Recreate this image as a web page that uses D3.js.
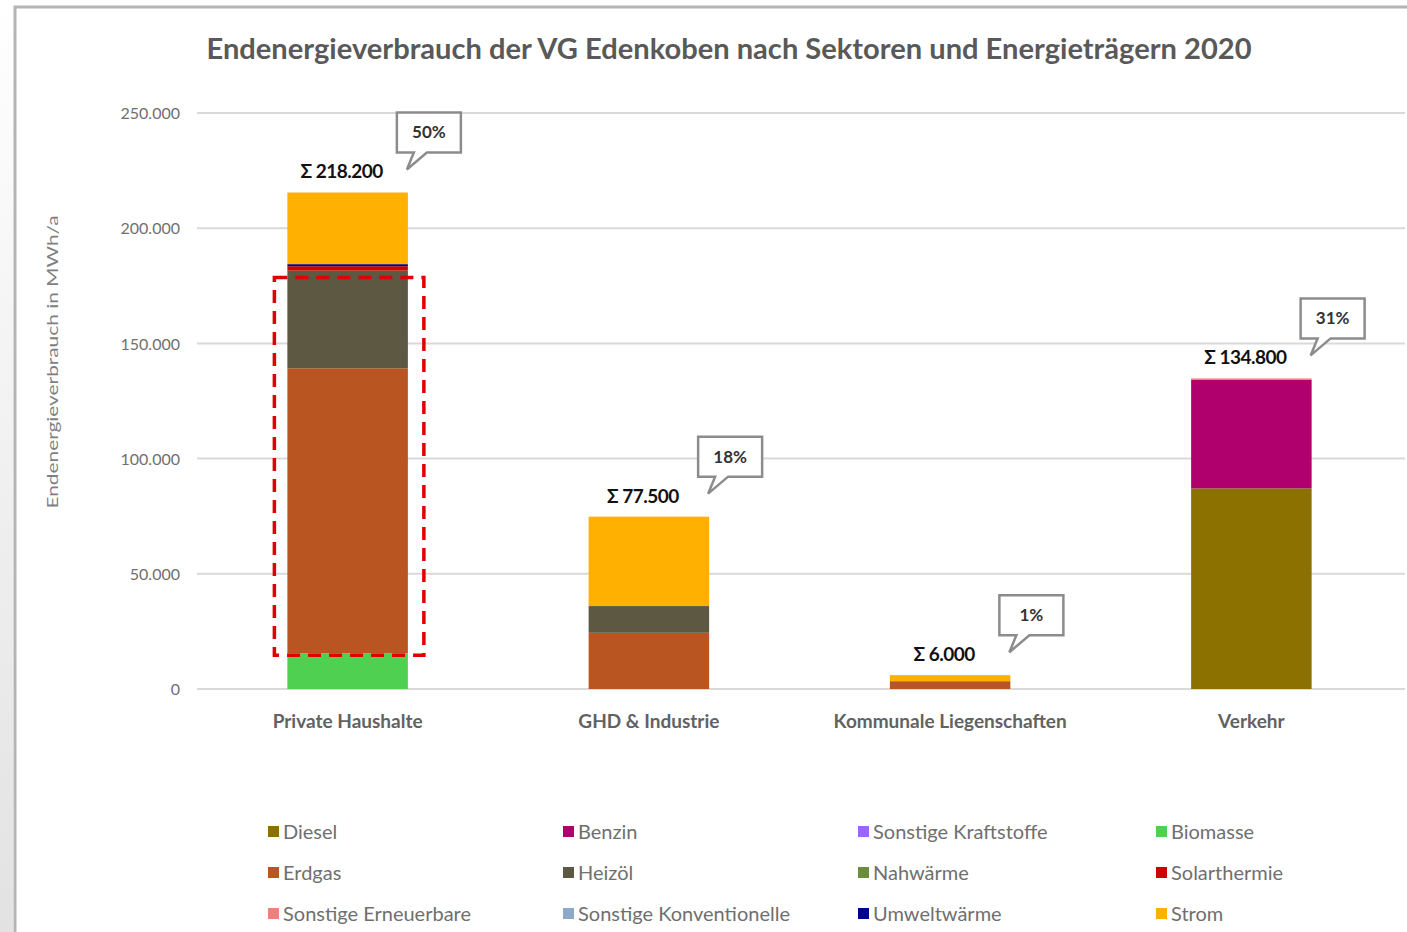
<!DOCTYPE html>
<html>
<head>
<meta charset="utf-8">
<script src="https://cdn.jsdelivr.net/npm/d3@7"></script>
<style>
  body { margin: 0; background: #fff; }
  text { font-family: Lato, "Open Sans", sans-serif; }
</style>
</head>
<body>
<div id="chart"></div>
<script>
// sectors and energy carriers
const sectors = ['Private Haushalte', 'GHD & Industrie', 'Kommunale Liegenschaften', 'Verkehr']
const carriers = ['Diesel', 'Benzin', 'Sonstige Kraftstoffe', 'Biomasse',
                  'Erdgas', 'Heizöl', 'Nahwärme', 'Solarthermie',
                  'Sonstige Erneuerbare', 'Sonstige Konventionelle', 'Umweltwärme', 'Strom']
const colors = ['#8c7000', '#b0006e', '#9966ff', '#50d050',
                '#b85521', '#5c5842', '#6b8e3a', '#d00000',
                '#f08080', '#8ea9c8', '#000090', '#ffb000']

// stacking order from the bottom up
const stackOrder = ['Diesel', 'Biomasse', 'Erdgas', 'Heizöl', 'Solarthermie', 'Umweltwärme', 'Benzin',
                    'Sonstige Kraftstoffe', 'Nahwärme', 'Sonstige Erneuerbare',
                    'Sonstige Konventionelle', 'Strom']

// MWh/a per sector
const diesel      = [0, 0, 0, 87100]
const benzin      = [0, 0, 0, 47200]
const kraftstoffe = [0, 0, 0, 0]
const biomasse    = [15500, 0, 0, 0]
const erdgas      = [123700, 24400, 3400, 0]
const heizoel     = [42400, 11600, 0, 0]
const nahwaerme   = [0, 0, 0, 0]
const solar       = [1900, 0, 0, 0]
const sonstErn    = [0, 0, 0, 500]
const sonstKonv   = [0, 0, 0, 0]
const umwelt      = [900, 0, 0, 0]
const strom       = [31100, 38800, 2600, 0]

const sums   = ['Σ 218.200', 'Σ 77.500', 'Σ 6.000', 'Σ 134.800']
const shares = ['50%', '18%', '1%', '31%']
const yTicks = [0, 50000, 100000, 150000, 200000, 250000]

const series = {
  'Diesel': diesel, 'Benzin': benzin, 'Sonstige Kraftstoffe': kraftstoffe, 'Biomasse': biomasse,
  'Erdgas': erdgas, 'Heizöl': heizoel, 'Nahwärme': nahwaerme, 'Solarthermie': solar,
  'Sonstige Erneuerbare': sonstErn, 'Sonstige Konventionelle': sonstKonv, 'Umweltwärme': umwelt, 'Strom': strom
}
const table = sectors.map((s, i) => {
  const row = { sector: s }
  carriers.forEach(c => row[c] = series[c][i])
  return row
})

const W = 1407, H = 932
const svg = d3.select('#chart').append('svg')
            .attr('width', W)
            .attr('height', H)

// frame of the screenshot
const defs = svg.append('defs')
const grad = defs.append('linearGradient').attr('id', 'edge')
    .attr('x1', 0).attr('y1', 0).attr('x2', 0).attr('y2', 1)
grad.append('stop').attr('offset', '0%').attr('stop-color', '#ffffff')
grad.append('stop').attr('offset', '100%').attr('stop-color', '#e2e2e2')
svg.append('rect').attr('x', 0).attr('y', 0).attr('width', 13).attr('height', H).attr('fill', 'url(#edge)')
svg.append('path').attr('d', `M15,${H} V7 H${W}`)
    .attr('fill', 'none').attr('stroke', '#b4b4b4').attr('stroke-width', 3)

const colorScale = d3.scaleOrdinal().domain(carriers).range(colors)

const x = d3.scaleBand().domain(sectors).range([197, 1402]).paddingInner(0.6).paddingOuter(0.3)
const y = d3.scaleLinear().domain([0, 250000]).range([689, 113])

// gridlines
svg.append('g').selectAll('line').data(yTicks).join('line')
    .attr('x1', 197).attr('x2', 1405)
    .attr('y1', d => y(d)).attr('y2', d => y(d))
    .attr('stroke', '#d9d9d9').attr('stroke-width', 2)

// y axis labels
const yAxis = d3.axisLeft(y).tickValues(yTicks).tickSize(0).tickPadding(0)
    .tickFormat(d => d === 0 ? '0' : d3.format(',')(d).replace(/,/g, '.'))
const gy = svg.append('g').attr('transform', 'translate(180,0)').call(yAxis)
gy.select('.domain').remove()
gy.selectAll('text').attr('fill', '#6f6f6f').style('font-size', '16px')
    .style('font-family', 'Lato, sans-serif').attr('dy', '0.35em')

svg.append('text')
    .attr('transform', 'translate(58,362) rotate(-90)')
    .attr('text-anchor', 'middle')
    .attr('fill', '#7f7f7f').style('font-size', '16px')
    .attr('textLength', 293).attr('lengthAdjust', 'spacingAndGlyphs')
    .text('Endenergieverbrauch  in MWh/a')

// title
svg.append('text')
    .attr('x', 729).attr('y', 59)
    .attr('text-anchor', 'middle')
    .attr('fill', '#595959').style('font-size', '29px').style('font-weight', 'bold')
    .attr('textLength', 1045).attr('lengthAdjust', 'spacingAndGlyphs')
    .text('Endenergieverbrauch der VG Edenkoben nach Sektoren und Energieträgern 2020')

// stacked bars
const stacked = d3.stack().keys(stackOrder)(table)
svg.append('g').selectAll('g').data(stacked).join('g')
    .attr('fill', d => colorScale(d.key))
  .selectAll('rect').data(d => d).join('rect')
    .attr('x', d => x(d.data.sector))
    .attr('width', x.bandwidth())
    .attr('y', d => y(d[1]))
    .attr('height', d => y(d[0]) - y(d[1]))

// x axis labels
const xAxis = d3.axisBottom(x).tickSize(0).tickPadding(0)
const gx = svg.append('g').attr('transform', 'translate(0,721)').call(xAxis)
gx.select('.domain').remove()
gx.selectAll('text').attr('fill', '#626262').style('font-size', '19px')
    .style('font-weight', 'bold').style('font-family', 'Lato, sans-serif').attr('dy', '0.35em')

// sums and callouts
const tops = sectors.map((s, i) => d3.sum(stackOrder, c => series[c][i]))
sectors.forEach((s, i) => {
  const top = y(tops[i])
  const cx = x(s) + x.bandwidth() / 2
  svg.append('text')
      .attr('x', cx - 6).attr('y', top - 14)
      .attr('text-anchor', 'middle')
      .attr('fill', '#111').style('font-size', '19px').style('font-weight', 'bold')
      .style('letter-spacing', '-0.5px')
      .text(sums[i])

  const bx = x(s) + x.bandwidth() - 11, bw = 64, bh = 40
  const by = top - 40 - bh
  const tip = [bx + 10, top - 23]
  const p = d3.path()
  p.moveTo(bx, by)
  p.lineTo(bx + bw, by)
  p.lineTo(bx + bw, by + bh)
  p.lineTo(bx + 30, by + bh)
  p.lineTo(tip[0], tip[1])
  p.lineTo(bx + 17, by + bh)
  p.lineTo(bx, by + bh)
  p.closePath()
  svg.append('path').attr('d', p.toString())
      .attr('fill', '#fff').attr('stroke', '#8c8c8c').attr('stroke-width', 2.5)
  svg.append('text')
      .attr('x', bx + bw / 2).attr('y', by + bh / 2)
      .attr('dy', '0.35em').attr('text-anchor', 'middle')
      .attr('fill', '#333').style('font-size', '17px').style('font-weight', 'bold')
      .text(shares[i])
})

// red dashed highlight around the heating carriers of private households
const ph = sectors[0]
const hlTop = y(biomasse[0] + erdgas[0] + heizoel[0]) + 7
const hlBottom = y(biomasse[0]) + 2
svg.append('rect')
    .attr('x', x(ph) - 13).attr('y', hlTop)
    .attr('width', x.bandwidth() + 29).attr('height', hlBottom - hlTop)
    .attr('fill', 'none').attr('stroke', '#e00000').attr('stroke-width', 3.5)
    .attr('stroke-dasharray', '13,8')

// legend
const legendX = [268, 563, 858, 1156]
const legendY = [832, 873, 914]
const lg = svg.append('g').selectAll('g').data(carriers).join('g')
    .attr('transform', (d, i) => `translate(${legendX[i % 4]},${legendY[Math.floor(i / 4)]})`)
lg.append('rect').attr('x', 0).attr('y', -6).attr('width', 11).attr('height', 11)
    .attr('fill', d => colorScale(d))
lg.append('text').attr('x', 15).attr('dy', '0.35em')
    .attr('fill', '#6f6f6f').style('font-size', '20px')
    .text(d => d)
</script>
</body>
</html>
